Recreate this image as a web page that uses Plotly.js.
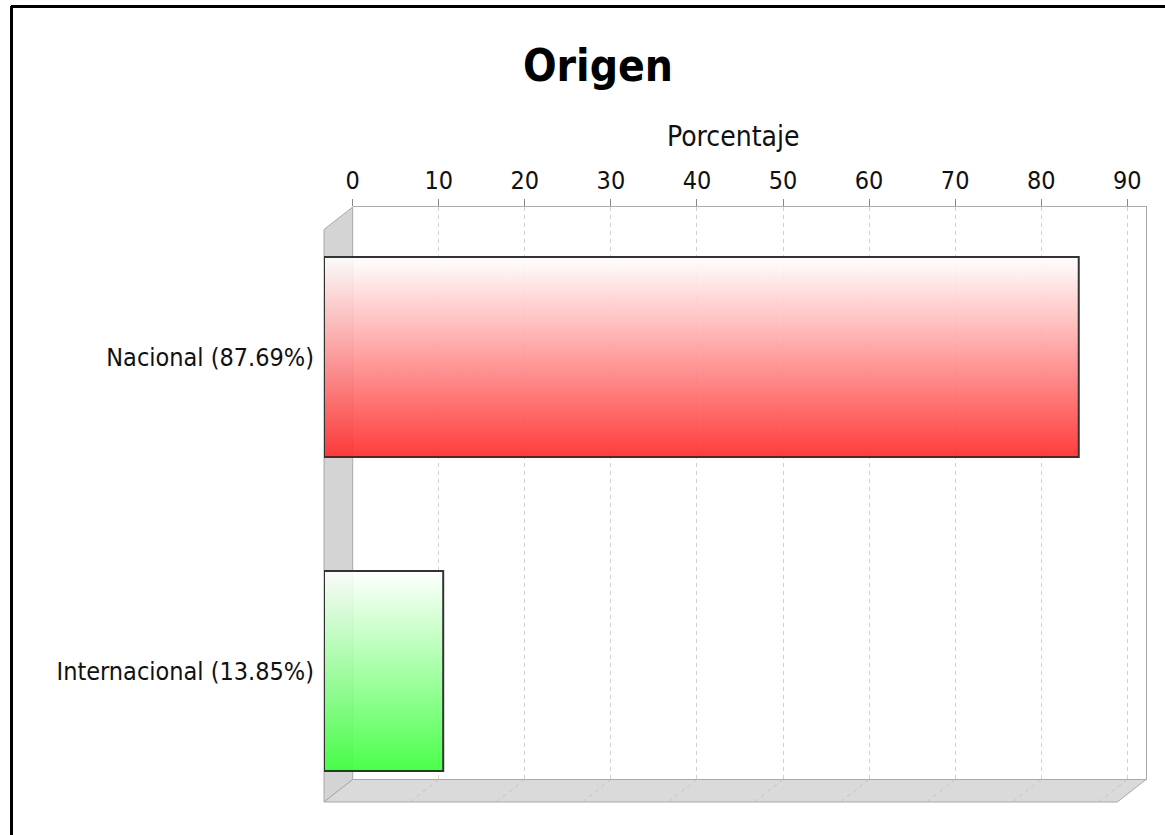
<!DOCTYPE html>
<html>
<head>
<meta charset="utf-8">
<script src="https://cdn.plot.ly/plotly-3.0.1.min.js"></script>
<style>html,body{margin:0;padding:0;background:#fff;}#chart{width:1165px;height:835px;}</style>
</head>
<body>
<div id="chart"></div>
<script>
// ---- data ----
const categories = ['Nacional (87.69%)', 'Internacional (13.85%)'];
const values = [87.69, 13.85];
const tickVals = [0, 10, 20, 30, 40, 50, 60, 70, 80, 90];
const tickText = ['0', '10', '20', '30', '40', '50', '60', '70', '80', '90'];
const chartTitle = 'Origen';
const axisTitle = 'Porcentaje';
const barColors = ['rgba(255,44,44,0.92)', 'rgba(60,255,60,0.92)'];

// ---- geometry (pixels) ----
const W = 1165, H = 835;
const mL = 324, mR = 19, mT = 207, mB = 33;
const pw = W - mL - mR, ph = H - mT - mB;
const dx = 28.7, dy = 22.5;
const xMax = 92.17;
const yTop = -0.406, yBot = 1.417;
const half = 0.3185;
const px2x = p => (p - mL) / pw;
const px2y = p => (H - mB - p) / ph;
const FONT = '"DejaVu Sans Condensed", "DejaVu Sans", sans-serif';

const traces = [];
// empty trace for the back-wall axes
traces.push({x: [], y: [], type: 'scatter', xaxis: 'x', yaxis: 'y', showlegend: false, hoverinfo: 'skip'});
values.forEach((v, i) => {
  traces.push({
    type: 'scatter', mode: 'lines', xaxis: 'x2', yaxis: 'y2',
    x: [0, v, v, 0, 0],
    y: [i - half, i - half, i + half, i + half, i - half],
    fill: 'toself',
    fillgradient: {type: 'vertical', start: i - half, stop: i + half,
      colorscale: [[0, 'rgba(255,255,255,0.9)'], [1, barColors[i]]]},
    line: {color: '#333333', width: 2},
    name: categories[i], showlegend: false, hoverinfo: 'skip'
  });
});

const shapes = [];
// left wall
shapes.push({type: 'path', xref: 'paper', yref: 'paper', layer: 'below',
  path: `M ${px2x(mL)} ${px2y(mT + dy)} L ${px2x(mL + dx)} ${px2y(mT)} L ${px2x(mL + dx)} ${px2y(H - mB - dy)} L ${px2x(mL)} ${px2y(H - mB)} Z`,
  fillcolor: '#d4d4d4', line: {color: '#a8a8a8', width: 1}});
// floor
shapes.push({type: 'path', xref: 'paper', yref: 'paper', layer: 'below',
  path: `M ${px2x(mL)} ${px2y(H - mB)} L ${px2x(mL + dx)} ${px2y(H - mB - dy)} L ${px2x(W - mR)} ${px2y(H - mB - dy)} L ${px2x(W - mR - dx)} ${px2y(H - mB)} Z`,
  fillcolor: '#dadada', line: {color: '#a8a8a8', width: 1}});
// floor diagonal dashes continuing grid
const unitPx = (pw - dx) / xMax;
tickVals.slice(1).forEach(t => {
  shapes.push({type: 'line', xref: 'x', yref: 'paper', layer: 'below',
    x0: t, y0: px2y(H - mB - dy), x1: t - dx / unitPx, y1: px2y(H - mB),
    line: {color: '#c4c4c4', width: 1, dash: '4px,4px'}});
});
// outer frame (top + left)
shapes.push({type: 'line', xref: 'paper', yref: 'paper', x0: px2x(11), y0: px2y(6.5), x1: px2x(W + 5), y1: px2y(6.5), line: {color: '#000', width: 3}});
shapes.push({type: 'line', xref: 'paper', yref: 'paper', x0: px2x(11.5), y0: px2y(6), x1: px2x(11.5), y1: px2y(H + 5), line: {color: '#000', width: 3}});

const layout = {
  width: W, height: H,
  margin: {l: mL, r: mR, t: mT, b: mB, pad: 0},
  paper_bgcolor: '#ffffff', plot_bgcolor: 'rgba(0,0,0,0)',
  showlegend: false,
  title: {text: chartTitle, x: 598 / W, xref: 'container', xanchor: 'center',
    y: 1 - 66 / H, yref: 'container', yanchor: 'middle',
    font: {family: FONT, size: 44, color: '#000', weight: 700}},
  xaxis: {domain: [px2x(mL + dx), 1], range: [0, xMax], anchor: 'y', side: 'top',
    tickvals: tickVals, ticktext: tickText, ticks: 'outside', ticklen: 7, tickcolor: '#888',
    tickfont: {family: FONT, size: 25, color: '#111'},
    showgrid: true, gridcolor: '#d0d0d0', griddash: '4px,4px', gridwidth: 1,
    showline: true, linecolor: '#aaaaaa', linewidth: 1, zeroline: false, fixedrange: true},
  yaxis: {domain: [px2y(H - mB - dy), 1], range: [yBot, yTop], anchor: 'x', side: 'right',
    showticklabels: false, ticks: '', showgrid: false, zeroline: false,
    showline: true, linecolor: '#aaaaaa', linewidth: 1, fixedrange: true},
  xaxis2: {domain: [0, px2x(W - mR - dx)], range: [0, xMax], anchor: 'y2', visible: false, fixedrange: true},
  yaxis2: {domain: [0, px2y(mT + dy)], range: [yBot, yTop], anchor: 'x2', side: 'left',
    tickvals: [0, 1], ticktext: categories, ticks: '', showgrid: false, zeroline: false, showline: false,
    ticklabelstandoff: 9,
    tickfont: {family: FONT, size: 25, color: '#111'}, fixedrange: true},
  shapes: shapes,
  annotations: [{text: axisTitle, xref: 'paper', yref: 'paper', x: px2x(733), y: px2y(136),
    xanchor: 'center', yanchor: 'middle', showarrow: false,
    font: {family: FONT, size: 28, color: '#111'}}]
};

Plotly.newPlot('chart', traces, layout, {displayModeBar: false, staticPlot: true});
</script>
</body>
</html>
